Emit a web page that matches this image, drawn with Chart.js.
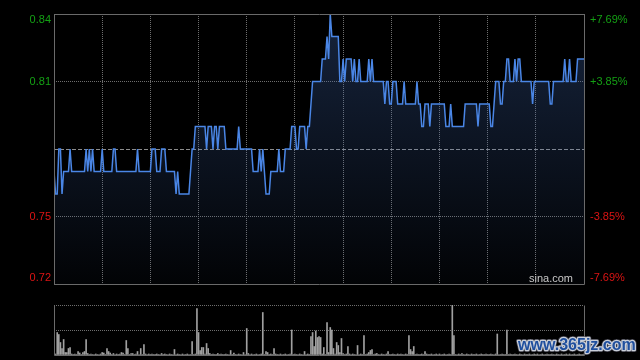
<!DOCTYPE html>
<html>
<head>
<meta charset="utf-8">
<script src="https://cdn.jsdelivr.net/npm/chart.js@4.4.1/dist/chart.umd.min.js"></script>
<style>
  html, body { margin: 0; padding: 0; background: #000; }
  #wrap { position: relative; width: 640px; height: 360px; overflow: hidden; background: #000; }
  canvas { position: absolute; left: 0; }
  #priceChart { top: 0; }
  #volumeChart { top: 300px; }
</style>
</head>
<body>
<div id="wrap">
  <canvas id="priceChart" width="640" height="300"></canvas>
  <canvas id="volumeChart" width="640" height="60"></canvas>
</div>
<script>
// previous close and axis ticks
const prevClose = 0.78;
const priceTicks = [0.72, 0.75, 0.78, 0.81, 0.84];
const timeTicks = [0, 30, 60, 90, 120, 150, 180, 210, 240, 270, 300, 330]; // minutes since open
const volumeTicks = [0, 50, 100];

// one price per trading minute (09:30-12:00, 13:00-16:00)
const prices = [
  0.77, 0.76, 0.76, 0.78, 0.78, 0.76, 0.77, 0.77, 0.77, 0.77,
  0.78, 0.77, 0.77, 0.77, 0.77, 0.77, 0.77, 0.77, 0.77, 0.77,
  0.78, 0.77, 0.78, 0.77, 0.78, 0.77, 0.77, 0.77, 0.77, 0.77,
  0.78, 0.77, 0.77, 0.77, 0.77, 0.77, 0.77, 0.78, 0.78, 0.77,
  0.77, 0.77, 0.77, 0.77, 0.77, 0.77, 0.77, 0.77, 0.77, 0.77,
  0.77, 0.77, 0.78, 0.77, 0.77, 0.77, 0.77, 0.77, 0.77, 0.77,
  0.77, 0.78, 0.78, 0.78, 0.77, 0.77, 0.77, 0.78, 0.78, 0.78,
  0.77, 0.77, 0.77, 0.77, 0.77, 0.77, 0.76, 0.77, 0.76, 0.76,
  0.76, 0.76, 0.76, 0.76, 0.76, 0.77, 0.78, 0.78, 0.79, 0.79,
  0.79, 0.79, 0.79, 0.79, 0.79, 0.78, 0.79, 0.79, 0.79, 0.78,
  0.79, 0.79, 0.78, 0.79, 0.79, 0.79, 0.79, 0.78, 0.78, 0.78,
  0.78, 0.78, 0.78, 0.78, 0.78, 0.79, 0.78, 0.78, 0.78, 0.78,
  0.78, 0.78, 0.78, 0.78, 0.77, 0.77, 0.77, 0.77, 0.78, 0.77,
  0.78, 0.77, 0.76, 0.76, 0.76, 0.77, 0.77, 0.77, 0.77, 0.77,
  0.78, 0.77, 0.77, 0.77, 0.78, 0.78, 0.78, 0.78, 0.79, 0.79,
  0.79, 0.78, 0.78, 0.79, 0.79, 0.79, 0.79, 0.78, 0.79, 0.79,
  0.80, 0.81, 0.81, 0.81, 0.81, 0.81, 0.81, 0.82, 0.82, 0.82,
  0.83, 0.82, 0.84, 0.83, 0.83, 0.83, 0.83, 0.83, 0.81, 0.81,
  0.82, 0.81, 0.82, 0.82, 0.82, 0.82, 0.81, 0.82, 0.81, 0.81,
  0.82, 0.81, 0.81, 0.81, 0.81, 0.81, 0.82, 0.81, 0.82, 0.81,
  0.81, 0.81, 0.81, 0.81, 0.81, 0.81, 0.80, 0.81, 0.81, 0.80,
  0.80, 0.81, 0.81, 0.81, 0.80, 0.80, 0.80, 0.80, 0.81, 0.80,
  0.80, 0.80, 0.80, 0.80, 0.80, 0.80, 0.81, 0.80, 0.80, 0.79,
  0.79, 0.80, 0.80, 0.80, 0.79, 0.80, 0.80, 0.80, 0.80, 0.80,
  0.80, 0.80, 0.80, 0.80, 0.79, 0.79, 0.79, 0.80, 0.79, 0.79,
  0.79, 0.79, 0.79, 0.79, 0.79, 0.79, 0.80, 0.80, 0.80, 0.80,
  0.80, 0.80, 0.80, 0.80, 0.79, 0.80, 0.80, 0.80, 0.80, 0.80,
  0.80, 0.80, 0.79, 0.79, 0.80, 0.81, 0.81, 0.81, 0.80, 0.80,
  0.81, 0.81, 0.82, 0.82, 0.81, 0.81, 0.81, 0.82, 0.81, 0.82,
  0.82, 0.81, 0.81, 0.81, 0.81, 0.81, 0.81, 0.81, 0.80, 0.81,
  0.81, 0.81, 0.81, 0.81, 0.81, 0.81, 0.81, 0.81, 0.81, 0.80,
  0.80, 0.81, 0.81, 0.81, 0.81, 0.81, 0.81, 0.81, 0.82, 0.81,
  0.81, 0.82, 0.81, 0.81, 0.81, 0.81, 0.82, 0.82, 0.82, 0.82,
  0.82
];

// volume per minute, relative (session max = 100)
const volumes = [
  65, 2, 45, 41, 25, 13, 31, 5, 5, 13,
  15, 2, 1, 2, 1, 7, 4, 1, 5, 7,
  31, 3, 1, 2, 1, 1, 2, 1, 1, 2,
  5, 4, 1, 13, 7, 4, 1, 3, 1, 2,
  1, 2, 5, 4, 1, 29, 13, 1, 3, 3,
  1, 2, 7, 1, 13, 1, 21, 2, 1, 2,
  1, 2, 1, 1, 2, 1, 1, 3, 1, 2,
  1, 1, 2, 1, 1, 11, 1, 2, 1, 1,
  2, 1, 1, 2, 1, 1, 27, 1, 2, 93,
  45, 9, 15, 15, 2, 23, 13, 3, 1, 2,
  1, 1, 3, 1, 2, 1, 1, 2, 1, 1,
  9, 1, 4, 1, 1, 2, 1, 1, 5, 1,
  53, 3, 1, 2, 1, 1, 2, 1, 1, 2,
  85, 1, 7, 5, 1, 2, 1, 13, 2, 1,
  1, 2, 1, 1, 2, 1, 1, 2, 50, 1,
  2, 1, 1, 2, 1, 1, 7, 1, 2, 1,
  37, 45, 17, 48, 35, 37, 35, 2, 15, 1,
  65, 5, 55, 50, 13, 2, 25, 19, 5, 33,
  3, 1, 2, 17, 2, 1, 2, 1, 1, 19,
  1, 2, 1, 39, 1, 2, 5, 9, 11, 1,
  2, 3, 1, 1, 2, 1, 1, 2, 7, 1,
  1, 2, 1, 1, 2, 1, 2, 1, 1, 2,
  1, 39, 11, 7, 17, 1, 2, 1, 1, 2,
  1, 7, 2, 1, 1, 2, 1, 1, 2, 1,
  2, 1, 1, 2, 1, 1, 2, 1, 100, 39,
  1, 1, 2, 1, 3, 1, 1, 2, 1, 1,
  2, 1, 1, 2, 1, 1, 2, 1, 1, 2,
  1, 1, 2, 1, 1, 2, 42, 1, 1, 2,
  1, 1, 50, 1, 2, 1, 1, 2, 1, 1,
  2, 1, 1, 2, 1, 1, 2, 1, 1, 2,
  1, 2, 1, 1, 2, 1, 1, 2, 1, 1,
  2, 1, 1, 2, 1, 1, 2, 1, 1, 2,
  1, 2, 1, 1, 2, 1, 1, 2, 1, 1,
  2
];

const minutes = prices.map((p, i) => i);

const gridColor = "#6e6e6e";
const frameColor = "#6a6a6a";
const upColor = "#14a014";
const downColor = "#dc1414";
const labelFont = '11px "Liberation Sans", Arial, sans-serif';

// solid frame round the plot area
const framePlugin = {
  id: "frame",
  afterDraw(chart, args, opts) {
    const { ctx, chartArea: a } = chart;
    const l = Math.round(a.left) + 0.5, r = Math.round(a.right) + 0.5;
    const t = Math.round(a.top) + 0.5, b = Math.round(a.bottom) + 0.5;
    ctx.save();
    ctx.strokeStyle = frameColor;
    ctx.lineWidth = 1;
    ctx.beginPath();
    if (opts.top !== false) { ctx.moveTo(l, t); ctx.lineTo(r, t); }
    ctx.moveTo(r, t); ctx.lineTo(r, b);
    ctx.lineTo(l, b);
    ctx.lineTo(l, t);
    ctx.stroke();
    ctx.restore();
  }
};

// previous close line + price/percent labels
const priceLabels = {
  id: "priceLabels",
  beforeDatasetsDraw(chart) {
    const { ctx, chartArea: a, scales } = chart;
    const y = Math.round(scales.y.getPixelForValue(prevClose)) + 0.5;
    ctx.save();
    ctx.strokeStyle = "#8c8c8c";
    ctx.lineWidth = 1;
    ctx.setLineDash([4, 2]);
    ctx.beginPath();
    ctx.moveTo(a.left, y);
    ctx.lineTo(a.right, y);
    ctx.stroke();
    ctx.restore();
  },
  afterDraw(chart) {
    const { ctx, chartArea: a, scales } = chart;
    ctx.save();
    ctx.font = labelFont;
    ctx.textBaseline = "middle";
    priceTicks.forEach(v => {
      if (v === prevClose) return;
      let y = scales.y.getPixelForValue(v);
      y = Math.max(a.top + 6, Math.min(a.bottom - 6, y));
      ctx.fillStyle = v > prevClose ? upColor : downColor;
      ctx.textAlign = "right";
      ctx.fillText(v.toFixed(2), a.left - 3, y);
      const pct = (v - prevClose) / prevClose * 100;
      ctx.textAlign = "left";
      ctx.fillText((pct > 0 ? "+" : "") + pct.toFixed(2) + "%", a.right + 6, y);
    });
    ctx.fillStyle = "#c8c8c8";
    ctx.textAlign = "right";
    ctx.textBaseline = "alphabetic";
    ctx.fillText("sina.com", a.right - 11, a.bottom - 2);
    ctx.restore();
  }
};

const watermark = {
  id: "watermark",
  afterDraw(chart) {
    const ctx = chart.ctx;
    ctx.save();
    ctx.font = 'bold 16px "Liberation Sans", Arial, sans-serif';
    ctx.textAlign = "left";
    ctx.lineJoin = "round";
    ctx.lineWidth = 4;
    ctx.strokeStyle = "rgba(60,60,70,0.9)";
    ctx.strokeText("www.365jz.com", 518, 50);
    ctx.lineWidth = 2.5;
    ctx.strokeStyle = "#c9ced8";
    ctx.strokeText("www.365jz.com", 518, 50);
    ctx.fillStyle = "#1f4f9e";
    ctx.fillText("www.365jz.com", 518, 50);
    ctx.restore();
  }
};

const priceChart = new Chart(document.getElementById("priceChart"), {
  type: "line",
  data: {
    labels: minutes,
    datasets: [{
      data: prices,
      borderColor: "#4a86e6",
      borderWidth: 1.5,
      pointRadius: 0,
      tension: 0,
      fill: "start",
      backgroundColor: (c) => {
        const a = c.chart.chartArea;
        if (!a) return "rgba(40,70,130,0.2)";
        const g = c.chart.ctx.createLinearGradient(0, a.top, 0, a.bottom);
        g.addColorStop(0, "rgba(64,104,176,0.34)");
        g.addColorStop(1, "rgba(64,104,176,0.03)");
        return g;
      }
    }]
  },
  options: {
    responsive: false,
    animation: false,
    layout: { padding: { left: 54, right: 56, top: 14, bottom: 16 } },
    plugins: { legend: { display: false }, tooltip: { enabled: false }, frame: {} },
    scales: {
      x: {
        type: "linear",
        min: 0,
        max: 330,
        offset: false,
        afterBuildTicks: s => { s.ticks = timeTicks.map(v => ({ value: v })); },
        ticks: { display: false },
        grid: { color: gridColor, drawTicks: false },
        border: { display: false, dash: [1, 1] }
      },
      y: {
        min: priceTicks[0],
        max: priceTicks[priceTicks.length - 1],
        afterBuildTicks: s => { s.ticks = priceTicks.map(v => ({ value: v })); },
        ticks: { display: false },
        grid: {
          drawTicks: false,
          color: c => (c.tick && c.tick.value === prevClose) ? "rgba(0,0,0,0)" : gridColor
        },
        border: { display: false, dash: [1, 1] }
      }
    }
  },
  plugins: [priceLabels, framePlugin]
});

const volumeChart = new Chart(document.getElementById("volumeChart"), {
  type: "bar",
  data: {
    labels: minutes,
    datasets: [{
      data: volumes,
      backgroundColor: "#a0a0a0",
      barThickness: 1,
      grouped: false
    }]
  },
  options: {
    responsive: false,
    animation: false,
    layout: { padding: { left: 54, right: 56, top: 5, bottom: 5 } },
    plugins: { legend: { display: false }, tooltip: { enabled: false }, frame: { top: false } },
    scales: {
      x: {
        type: "linear",
        min: 0,
        max: 330,
        offset: false,
        ticks: { display: false },
        grid: { display: false, drawTicks: false, offset: false },
        border: { display: false }
      },
      y: {
        min: volumeTicks[0],
        max: volumeTicks[volumeTicks.length - 1],
        afterBuildTicks: s => { s.ticks = volumeTicks.map(v => ({ value: v })); },
        ticks: { display: false },
        grid: {
          drawTicks: false,
          color: c => (c.tick && c.tick.value === 0) ? "rgba(0,0,0,0)" : gridColor
        },
        border: { display: false, dash: [1, 1] }
      }
    }
  },
  plugins: [framePlugin, watermark]
});
</script>
</body>
</html>
